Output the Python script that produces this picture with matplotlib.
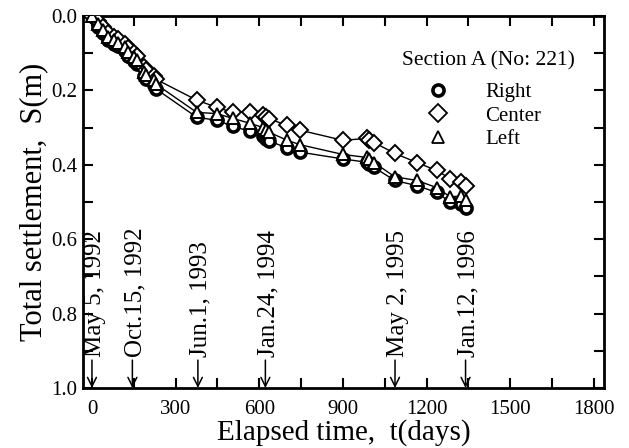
import numpy as np
import matplotlib
matplotlib.use("Agg")
import matplotlib.pyplot as plt
from matplotlib.lines import Line2D
from matplotlib.ticker import MultipleLocator

plt.rcParams['font.family'] = ['Liberation Serif', 'DejaVu Serif']

# --------------------------------------------------------------------------
# Data (elapsed days, settlement in m)
# --------------------------------------------------------------------------
days = [0, 20, 40, 58, 78, 93, 120, 130, 150, 160,
        185, 195, 222, 230, 376, 447, 505, 566, 615, 625,
        635, 700, 748, 900, 985, 995, 1012, 1086, 1166, 1236,
        1285, 1322, 1342]

s_right = [0.0, 0.028, 0.046, 0.064, 0.074, 0.080, 0.094, 0.106, 0.120, 0.128,
           0.162, 0.170, 0.184, 0.196, 0.272, 0.280, 0.296, 0.310, 0.322, 0.330,
           0.336, 0.354, 0.366, 0.384, 0.393, 0.398, 0.407, 0.442, 0.456, 0.474,
           0.500, 0.505, 0.515]

s_center = [0.0, 0.012, 0.030, 0.046, 0.056, 0.062, 0.074, 0.086, 0.098, 0.106,
            0.138, 0.146, 0.160, 0.170, 0.226, 0.245, 0.259, 0.258, 0.265, 0.270,
            0.276, 0.294, 0.307, 0.334, 0.329, 0.332, 0.340, 0.369, 0.394, 0.415,
            0.437, 0.447, 0.458]

s_left = [0.0, 0.020, 0.038, 0.055, 0.065, 0.071, 0.084, 0.097, 0.110, 0.119,
          0.151, 0.159, 0.172, 0.183, 0.259, 0.262, 0.275, 0.288, 0.300, 0.305,
          0.312, 0.334, 0.346, 0.372, 0.380, 0.384, 0.394, 0.432, 0.442, 0.461,
          0.486, 0.484, 0.495]

event_days = [0, 145, 380, 622, 1087, 1340]
event_labels = ["May 5, 1992", "Oct.15, 1992", "Jun.1, 1993",
                "Jan.24, 1994", "May 2, 1995", "Jan.12, 1996"]

# --------------------------------------------------------------------------
# Figure
# --------------------------------------------------------------------------
fig = plt.figure(figsize=(6.29, 4.48), dpi=100)
ax = fig.add_axes([0.132, 0.134, 0.828, 0.830])

ax.plot(days, s_right, color='black', lw=1.0, marker='o', ms=8,
        mfc='white', mec='black', mew=2.6, zorder=3)
ax.plot(days, s_center, color='black', lw=1.0, marker='D', ms=8,
        mfc='white', mec='black', mew=1.4, zorder=4)
ax.plot(days, s_left, color='black', lw=1.0, marker='^', ms=8,
        mfc='white', mec='black', mew=1.4, zorder=5)

# construction event arrows
for d, lab in zip(event_days, event_labels):
    ax.annotate('', xy=(d, 1.0), xytext=(d, 0.925),
                arrowprops=dict(arrowstyle='->', lw=1.1, color='black',
                                mutation_scale=16, shrinkA=0, shrinkB=0))
    ax.text(d + 10, 0.918, lab, rotation=90, ha='center', va='bottom',
            fontsize=18)

ax.set_xlim(-32, 1836)
ax.set_ylim(1.0, 0.0)
ax.xaxis.set_major_locator(MultipleLocator(300))
ax.xaxis.set_minor_locator(MultipleLocator(150))
ax.yaxis.set_minor_locator(MultipleLocator(0.1))
ax.set_yticks([0.0, 0.2, 0.4, 0.6, 0.8, 1.0])
ax.set_yticklabels(['0.0', '0.2', '0.4', '0.6', '0.8', '1.0'])

ax.tick_params(which='both', direction='in', top=True, right=True,
               width=1.5, length=7, labelsize=15)
ax.tick_params(axis='x', pad=9)
ax.tick_params(axis='y', pad=4)
for sp in ax.spines.values():
    sp.set_linewidth(2.0)

ax.set_xlabel('Elapsed time,  t(days)', fontsize=21, labelpad=0)
ax.set_ylabel('Total settlement,  S(m)', fontsize=22, labelpad=2)

# legend: title as its own text, entries below it
ax.text(0.779, 0.880, 'Section A (No: 221)', transform=ax.transAxes,
        ha='center', va='center', fontsize=15.5)
handles = [
    Line2D([], [], ls='none', marker='o', ms=8, mfc='white', mec='black', mew=2.6),
    Line2D([], [], ls='none', marker='D', ms=9, mfc='white', mec='black', mew=1.3),
    Line2D([], [], ls='none', marker='^', ms=9, mfc='white', mec='black', mew=1.3),
]
ax.legend(handles, ['Right', 'Center', 'Left'], fontsize=15,
          frameon=False, loc='upper left', bbox_to_anchor=(0.661, 0.822),
          handlelength=1.0, handletextpad=1.8, labelspacing=0.2,
          borderpad=0, borderaxespad=0)

fig.savefig('out.png', dpi=100)
